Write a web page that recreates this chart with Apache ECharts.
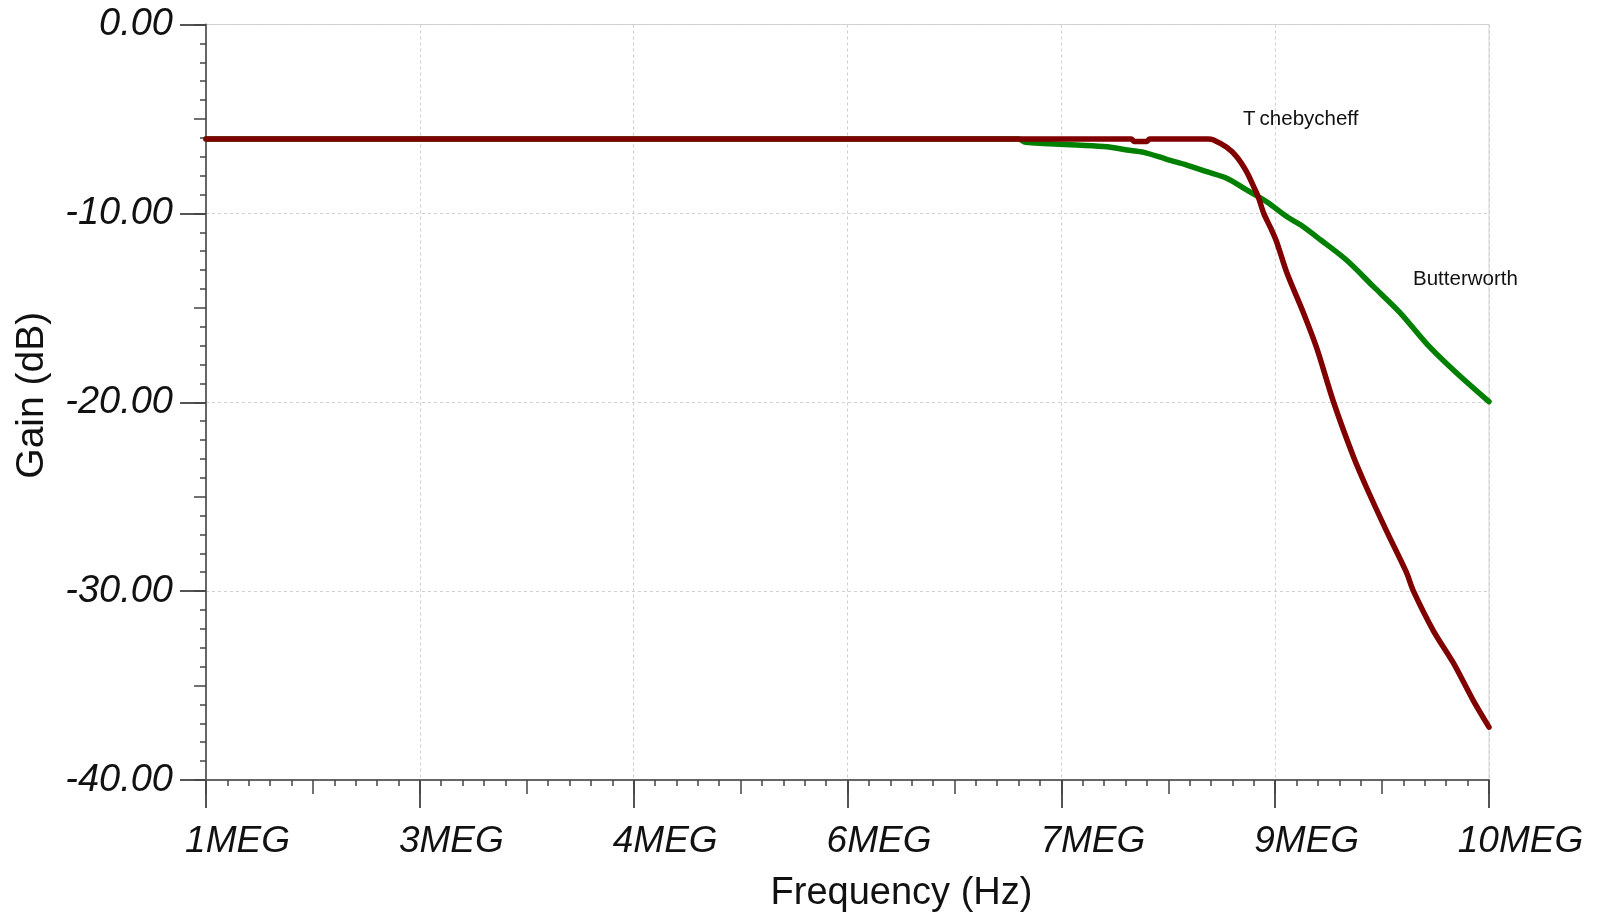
<!DOCTYPE html>
<html>
<head>
<meta charset="utf-8">
<script src="https://cdn.jsdelivr.net/npm/echarts@6/dist/echarts.min.js"></script>
<style>
html,body{margin:0;padding:0;background:#fff;}
#chart{width:1606px;height:914px;}
</style>
</head>
<body>
<div id="chart"></div>
<script>
// ---- data (frequency in MHz, gain in dB) ----
const freqTcheb = [1, 7.49, 7.51, 7.60, 7.62, 8.03, 8.064, 8.16, 8.23, 8.30, 8.35, 8.38, 8.42, 8.47, 8.51, 8.58, 8.70, 8.79, 8.91, 9.05, 9.14, 9.28, 9.42, 9.47, 9.61, 9.75, 9.89, 10];
const gainTcheb = [-6.06, -6.06, -6.19, -6.19, -6.06, -6.06, -6.10, -6.50, -7.00, -7.80, -8.60, -9.10, -10.0, -10.8, -11.5, -13.1, -15.3, -17.1, -20.0, -22.9, -24.5, -26.8, -29.0, -30.0, -32.1, -33.8, -35.8, -37.2];

const freqButter = [1, 6.70, 6.75, 7.11, 7.32, 7.46, 7.58, 7.74, 7.88, 8.02, 8.16, 8.30, 8.44, 8.58, 8.68, 8.82, 9.00, 9.19, 9.38, 9.56, 9.75, 10];
const gainButter = [-6.06, -6.06, -6.24, -6.38, -6.47, -6.64, -6.77, -7.14, -7.44, -7.79, -8.14, -8.76, -9.38, -10.17, -10.62, -11.41, -12.47, -13.88, -15.29, -16.88, -18.29, -19.97];

const xTickLabels = ['1MEG', '3MEG', '4MEG', '6MEG', '7MEG', '9MEG', '10MEG'];
const yTickLabels = ['0.00', '-10.00', '-20.00', '-30.00', '-40.00'];

const seriesNames = ['Tchebycheff', 'Butterworth'];
const annoPos = [[8.275, -5.04], [9.467, -13.47]];

// ---- chart ----
const X_MIN = 1, X_MAX = 10, X_STEP = 1.5;
const Y_MIN = -40, Y_MAX = 0, Y_STEP = 10;
const axisColor = '#666';
const font = '"Liberation Sans", Arial, sans-serif';

function pairs(xs, ys) { return xs.map((x, i) => [x, ys[i]]); }

const chart = echarts.init(document.getElementById('chart'), null, {renderer: 'canvas'});

const option = {
  backgroundColor: '#ffffff',
  animation: false,
  textStyle: {fontFamily: font},
  grid: {
    left: 206, right: 117, top: 24.5, bottom: 134,
    outerBoundsMode: 'none', containLabel: false,
    show: true, borderColor: '#d4d4d4', borderWidth: 1, backgroundColor: 'transparent'
  },
  xAxis: [{
    type: 'value', min: X_MIN, max: X_MAX, interval: X_STEP, position: 'bottom',
    name: 'Frequency (Hz)', nameLocation: 'middle', nameGap: 95,
    nameTextStyle: {fontSize: 38, color: '#111', fontFamily: font, padding: [0, 0, 0, 108]},
    axisLine: {show: true, onZero: false, lineStyle: {color: axisColor, width: 2}},
    axisTick: {show: true, length: 28, lineStyle: {color: '#555', width: 2}},
    minorTick: {show: true, splitNumber: 10, length: 6, lineStyle: {color: '#444', width: 1.5}},
    axisLabel: {
      show: true, margin: 43, fontSize: 37, fontStyle: 'italic', color: '#111', fontFamily: font,
      align: 'center', padding: [0, 0, 0, 63],
      formatter: v => xTickLabels[Math.round((v - X_MIN) / X_STEP)] || ''
    },
    splitLine: {show: true, lineStyle: {color: '#cfcfcf', width: 1, type: [3, 3]}},
    minorSplitLine: {show: false}
  }, {
    type: 'value', min: X_MIN, max: X_MAX, interval: X_STEP / 2, position: 'bottom', gridIndex: 0,
    axisLine: {show: false, onZero: false},
    axisTick: {show: true, length: 14, lineStyle: {color: '#444', width: 1.5}},
    axisLabel: {show: false},
    splitLine: {show: false}
  }],
  yAxis: [{
    type: 'value', min: Y_MIN, max: Y_MAX, interval: Y_STEP, position: 'left',
    name: 'Gain (dB)', nameLocation: 'middle', nameGap: 154,
    nameTextStyle: {fontSize: 39, color: '#111', fontFamily: font, padding: [0, 0, 0, 14]},
    axisLine: {show: true, onZero: false, lineStyle: {color: axisColor, width: 2}},
    axisTick: {show: true, length: 26, lineStyle: {color: '#555', width: 2}},
    minorTick: {show: true, splitNumber: 10, length: 6, lineStyle: {color: '#444', width: 1.5}},
    axisLabel: {
      show: true, margin: 33, fontSize: 38, fontStyle: 'italic', color: '#111', fontFamily: font,
      formatter: v => yTickLabels[Math.round((Y_MAX - v) / Y_STEP)] || ''
    },
    splitLine: {show: true, lineStyle: {color: '#cfcfcf', width: 1, type: [3, 3]}}
  }, {
    type: 'value', min: Y_MIN, max: Y_MAX, interval: Y_STEP / 2, position: 'left', gridIndex: 0,
    axisLine: {show: false, onZero: false},
    axisTick: {show: true, length: 12, lineStyle: {color: '#444', width: 1.5}},
    axisLabel: {show: false},
    splitLine: {show: false}
  }],
  series: [{
    name: seriesNames[1], type: 'line', xAxisIndex: 0, yAxisIndex: 0,
    data: pairs(freqButter, gainButter), showSymbol: false, smooth: 0.3,
    lineStyle: {color: '#008000', width: 5.5, cap: 'round', join: 'round'},
    z: 3,
    markPoint: {
      symbol: 'circle', symbolSize: 0, silent: true,
      data: [{coord: annoPos[1], value: seriesNames[1]}],
      label: {show: true, position: 'inside', align: 'left', verticalAlign: 'middle',
              formatter: seriesNames[1], color: '#111', fontSize: 20.5, fontFamily: font}
    }
  }, {
    name: seriesNames[0], type: 'line', xAxisIndex: 0, yAxisIndex: 0,
    data: pairs(freqTcheb, gainTcheb), showSymbol: false, smooth: 0.3,
    lineStyle: {color: '#800000', width: 5.5, cap: 'round', join: 'round'},
    z: 4,
    markPoint: {
      symbol: 'circle', symbolSize: 0, silent: true,
      data: [{coord: annoPos[0], value: seriesNames[0]}],
      label: {show: true, position: 'inside', align: 'left', verticalAlign: 'middle',
              formatter: () => '{t|' + seriesNames[0].charAt(0) + '}{r|' + seriesNames[0].slice(1) + '}',
              rich: {
                t: {color: '#111', fontSize: 20.5, fontFamily: font, padding: [0, 4, 0, 0]},
                r: {color: '#111', fontSize: 20.5, fontFamily: font}
              }}
    }
  }]
};
chart.setOption(option);
</script>
</body>
</html>
